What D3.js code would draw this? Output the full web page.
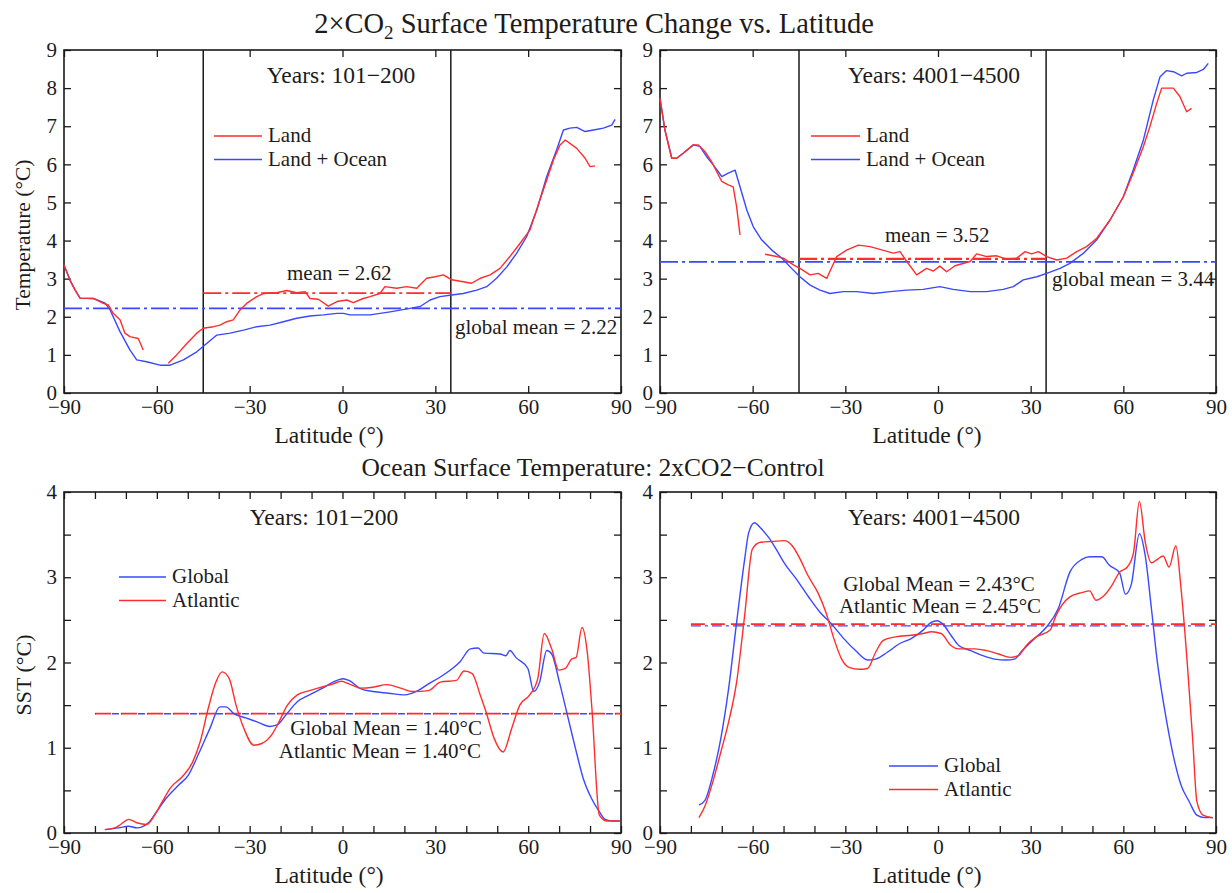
<!DOCTYPE html>
<html><head><meta charset="utf-8">
<script src="https://cdn.jsdelivr.net/npm/d3@7"></script>
<style>
body{margin:0;background:#fff}
text{font-family:"Liberation Serif","Times New Roman",serif;fill:#1c1c1c}
</style>
</head><body>
<svg id="c" width="1232" height="893"></svg>
<script>
// ---------------- DATA ----------------
const latTicksTop = [-90,-60,-30,0,30,60,90];
const latTicksBottom = [-90,-80,-70,-60,-50,-40,-30,-20,-10,0,10,20,30,40,50,60,70,80,90];
const tempTicks = [0,1,2,3,4,5,6,7,8,9];
const sstTicks = [0,0.5,1,1.5,2,2.5,3,3.5,4];

// Top-left: Years 101-200
const tlLandOcean = [[-90,3.36],[-88,2.95],[-86.4,2.7],[-84.8,2.49],[-80.5,2.48],[-76.7,2.36],[-75.1,2.18],[-71.9,1.61],[-68.7,1.13],[-66.5,0.87],[-63.3,0.82],[-59,0.73],[-55.7,0.73],[-51.4,0.87],[-47.1,1.08],[-43.9,1.30],[-40.6,1.52],[-36.3,1.57],[-32.0,1.65],[-27.7,1.74],[-23.4,1.78],[-19.1,1.87],[-14.8,1.96],[-10.5,2.02],[-6.2,2.05],[-1.8,2.09],[0.3,2.09],[2.4,2.05],[6.7,2.05],[8.9,2.05],[15.4,2.13],[21.8,2.22],[25.1,2.27],[28.3,2.44],[31.5,2.53],[35.3,2.57],[39.0,2.61],[43.4,2.70],[46.6,2.79],[49.8,3.01],[53.1,3.31],[56.3,3.67],[59.5,4.10],[62.8,4.80],[66.0,5.68],[69.2,6.38],[71.4,6.90],[73.5,6.95],[75.7,6.97],[78.4,6.86],[81.1,6.90],[84.3,6.95],[87.0,7.03],[88.1,7.18]];
const tlLand = [[-90,3.36],[-88,2.95],[-86.4,2.7],[-84.8,2.49],[-80.5,2.48],[-77.3,2.35],[-75.7,2.31],[-74.1,2.09],[-71.9,1.92],[-70.3,1.57],[-68.7,1.48],[-66.0,1.43],[-64.4,1.13],[-60,null],[-56.3,0.78],[-53.6,1.0],[-50.3,1.30],[-47.1,1.57],[-45.0,1.70],[-41.7,1.74],[-39.6,1.78],[-37.4,1.87],[-35.3,1.92],[-33.1,2.18],[-31.0,2.35],[-27.7,2.53],[-25.6,2.61],[-21.3,2.63],[-18.0,2.69],[-14.8,2.63],[-12.1,2.66],[-10.5,2.48],[-7.8,2.46],[-4.6,2.28],[-1.8,2.40],[1.4,2.44],[3.5,2.37],[6.7,2.48],[8.9,2.53],[12.1,2.61],[13.7,2.79],[17.5,2.75],[20.7,2.79],[24.0,2.75],[27.2,3.01],[29.9,3.05],[32.6,3.10],[35.3,2.97],[39.0,2.92],[41.7,2.88],[44.5,3.01],[47.7,3.10],[50.9,3.27],[54.1,3.58],[57.4,3.93],[60.6,4.28],[63.8,5.07],[66.0,5.59],[68.2,6.12],[70.3,6.51],[72.0,6.64],[75.7,6.42],[78.4,6.16],[80.0,5.94],[81.6,5.96]];
const tlMeans = {land:2.62, global:2.22};

// Top-right: Years 4001-4500
const trLandOcean = [[-90,7.73],[-88.4,6.90],[-86.2,6.16],[-84.6,6.16],[-82.5,6.29],[-79.2,6.51],[-77.1,6.47],[-74.9,6.20],[-72.7,5.98],[-70.0,5.68],[-67.9,5.77],[-65.7,5.85],[-64.1,5.41],[-61.9,4.80],[-59.8,4.36],[-57.1,4.02],[-53.8,3.75],[-50.6,3.54],[-47.4,3.27],[-44.7,3.05],[-41.4,2.83],[-38.2,2.70],[-35.0,2.61],[-30.7,2.66],[-26.3,2.66],[-20.9,2.61],[-15.5,2.66],[-10.1,2.70],[-4.8,2.72],[0.6,2.79],[4.9,2.72],[10.4,2.66],[15.8,2.66],[21.1,2.72],[24.4,2.79],[27.6,2.97],[32.0,3.05],[35.2,3.14],[39.5,3.27],[42.7,3.40],[47.1,3.67],[51.4,4.02],[55.7,4.54],[60.0,5.15],[63.2,5.85],[66.5,6.64],[69.7,7.69],[71.9,8.30],[74.0,8.46],[76.2,8.43],[78.9,8.32],[80.5,8.39],[83.8,8.41],[85.9,8.49],[87.5,8.65]];
const trLand = [[-90,7.73],[-88.4,6.90],[-86.2,6.16],[-84.6,6.16],[-82.5,6.29],[-79.2,6.51],[-77.6,6.51],[-75.4,6.33],[-73.3,6.07],[-70.0,5.55],[-67.9,5.46],[-66.3,5.41],[-65.2,4.89],[-64.1,4.15],[-60,null],[-56.0,3.64],[-52.2,3.58],[-50.1,3.54],[-46.8,3.36],[-44.7,3.27],[-41.4,3.10],[-38.8,3.14],[-36.0,3.01],[-32.8,3.58],[-29.6,3.75],[-25.8,3.88],[-22.0,3.84],[-18.8,3.77],[-14.5,3.67],[-12.3,3.71],[-10.1,3.45],[-6.9,3.10],[-3.7,3.27],[-1.5,3.2],[0.6,3.33],[2.8,3.18],[5.5,3.34],[10.4,3.45],[12.5,3.65],[15.8,3.58],[19.0,3.60],[22.2,3.51],[25.5,3.54],[28.2,3.71],[30.3,3.65],[32.5,3.71],[35.2,3.58],[38.4,3.49],[41.7,3.54],[44.9,3.71],[48.1,3.84],[51.4,4.06],[55.7,4.54],[60.0,5.15],[63.2,5.77],[66.5,6.47],[68.6,6.99],[70.8,7.60],[72.4,8.0],[76.2,8.0],[78.3,7.78],[80.5,7.38],[82.1,7.47]];
const trMeans = {land:3.52, global:3.44};

// Bottom-left: SST Years 101-200
const blGlobal = [[-76.8,0.04],[-72.3,0.06],[-69.1,0.08],[-66.5,0.06],[-62.7,0.12],[-60.1,0.25],[-56.9,0.41],[-53.0,0.56],[-49.8,0.68],[-46.6,0.92],[-42.8,1.23],[-39.6,1.48],[-37.7,1.48],[-35.1,1.40],[-31.2,1.35],[-27.4,1.30],[-23.5,1.25],[-21.0,1.27],[-18.4,1.38],[-14.6,1.54],[-10.7,1.62],[-6.9,1.69],[-3.0,1.77],[0.2,1.81],[2.1,1.79],[6.0,1.69],[9.8,1.66],[14.9,1.64],[20.1,1.62],[23.9,1.66],[27.8,1.75],[31.6,1.83],[35.5,1.93],[38.0,2.01],[41.3,2.16],[43.8,2.17],[45.7,2.11],[50.9,2.10],[52.8,2.08],[54.1,2.14],[56.0,2.06],[59.9,1.93],[61.8,1.66],[63.7,1.77],[66.0,2.14],[67.6,2.10],[70.1,1.77],[72.7,1.38],[75.3,0.99],[77.8,0.64],[80.4,0.41],[83.0,0.25],[84.9,0.16],[87.4,0.14],[89.6,0.14]];
const blAtlantic = [[-76.8,0.04],[-73.6,0.06],[-71.7,0.10],[-69.1,0.16],[-66.5,0.12],[-63.3,0.10],[-60.7,0.21],[-58.2,0.37],[-55.6,0.53],[-51.8,0.66],[-48.6,0.82],[-46.0,1.07],[-43.4,1.46],[-40.9,1.77],[-38.9,1.89],[-36.6,1.81],[-34.4,1.50],[-31.9,1.23],[-28.7,1.03],[-26.1,1.05],[-22.9,1.15],[-21.0,1.27],[-17.8,1.50],[-14.6,1.62],[-10.7,1.67],[-6.9,1.71],[-3.0,1.75],[-0.4,1.78],[2.1,1.75],[6.0,1.70],[9.8,1.71],[14.3,1.74],[18.8,1.70],[22.6,1.66],[27.8,1.67],[31.6,1.77],[36.8,1.79],[39.3,1.90],[41.9,1.87],[44.5,1.62],[46.4,1.42],[49.0,1.11],[51.9,0.95],[54.7,1.23],[57.3,1.50],[60.5,1.62],[63.1,1.81],[65.2,2.34],[67.6,2.16],[69.9,1.91],[72.0,1.93],[74.0,2.04],[75.5,2.06],[77.4,2.41],[79.1,2.12],[80.6,1.46],[83.0,0.21],[85.5,0.14],[89.6,0.14]];
const blMeans = {global:1.40, atlantic:1.40};

// Bottom-right: SST Years 4001-4500
const brGlobal = [[-77.4,0.33],[-75.5,0.38],[-72.9,0.68],[-70.3,1.11],[-67.8,1.69],[-65.2,2.47],[-62.6,3.21],[-61.3,3.52],[-59.4,3.64],[-57.5,3.58],[-54.9,3.47],[-52.4,3.33],[-49.8,3.17],[-45.9,2.98],[-42.1,2.78],[-38.2,2.59],[-34.4,2.45],[-30.5,2.28],[-26.7,2.14],[-22.8,2.03],[-20.2,2.04],[-16.4,2.12],[-12.5,2.22],[-8.7,2.28],[-4.8,2.38],[-2.2,2.47],[-0.3,2.49],[1.6,2.45],[4.2,2.32],[6.7,2.20],[10.6,2.14],[14.5,2.08],[18.3,2.04],[22.2,2.03],[24.7,2.04],[27.3,2.14],[31.2,2.28],[35.0,2.41],[38.9,2.63],[42.7,3.06],[46.6,3.21],[49.1,3.24],[53.0,3.24],[55.5,3.14],[58.8,3.05],[60.7,2.80],[62.6,2.92],[65.2,3.51],[67.1,3.25],[69.1,2.63],[71.0,2.01],[73.5,1.42],[76.1,0.92],[78.7,0.56],[81.3,0.37],[83.8,0.21],[86.4,0.18],[89.0,0.18]];
const brAtlantic = [[-77.4,0.18],[-75.5,0.31],[-72.9,0.60],[-70.3,0.95],[-67.8,1.30],[-65.2,1.77],[-62.6,2.55],[-60.1,3.33],[-57.5,3.41],[-53.6,3.42],[-49.8,3.43],[-47.2,3.37],[-44.6,3.21],[-42.1,3.02],[-38.9,2.82],[-36.3,2.59],[-33.7,2.28],[-31.2,2.04],[-28.6,1.94],[-25.4,1.92],[-22.8,1.93],[-20.2,2.12],[-17.7,2.26],[-13.8,2.30],[-8.7,2.32],[-4.8,2.34],[-2.2,2.36],[1.0,2.34],[4.2,2.20],[6.7,2.16],[11.9,2.16],[15.7,2.14],[19.6,2.10],[23.4,2.06],[26.0,2.08],[28.6,2.20],[31.8,2.30],[36.3,2.38],[38.2,2.55],[42.7,2.77],[46.6,2.82],[49.1,2.84],[51.1,2.73],[53.6,2.78],[56.2,2.90],[58.8,3.06],[61.3,3.12],[63.3,3.29],[65.2,3.89],[67.1,3.41],[69.1,3.17],[71.0,3.21],[72.9,3.25],[74.8,3.12],[77.0,3.37],[78.7,2.86],[80.6,2.04],[82.5,1.07],[83.8,0.37],[85.8,0.21],[89.0,0.18]];
const brMeans = {global:2.43, atlantic:2.45};

const tropicBounds = [-45, 35];
const sstMeanStart = -80;

// ---------------- DRAWING ----------------
const RED = "#ff2d2d", BLUE = "#3a48ff", INK = "#1a1a1a";
const svg = d3.select("#c");
svg.append("rect").attr("width",1232).attr("height",893).attr("fill","#fff");

const fmt = d => d < 0 ? "\u2212" + Math.abs(d) : String(d);

function makePanel(o){
  const x = d3.scaleLinear().domain([-90,90]).range([o.x0,o.x1]);
  const y = d3.scaleLinear().domain([0,o.ymax]).range([o.y1,o.y0]);
  const g = svg.append("g");
  const style = sel => {
    sel.select(".domain").remove();
    sel.selectAll(".tick line").attr("stroke",INK).attr("stroke-width",1.3);
    sel.selectAll("text").attr("font-family",'"Liberation Serif",serif').attr("font-size",21).attr("fill",INK);
    sel.attr("font-size",null).attr("font-family",null);
  };
  g.append("g").attr("transform",`translate(0,${o.y1})`)
    .call(d3.axisBottom(x).tickValues(o.xticks).tickSize(-o.tick).tickPadding(6).tickFormat(d => d%30===0 ? fmt(d) : ""))
    .call(style);
  g.append("g").attr("transform",`translate(0,${o.y0})`)
    .call(d3.axisTop(x).tickValues(o.xticks).tickSize(-o.tick).tickFormat(""))
    .call(style);
  g.append("g").attr("transform",`translate(${o.x0},0)`)
    .call(d3.axisLeft(y).tickValues(o.yticks).tickSize(-o.tick).tickPadding(7).tickFormat(d => Number.isInteger(d) ? String(d) : ""))
    .call(style);
  g.append("g").attr("transform",`translate(${o.x1},0)`)
    .call(d3.axisRight(y).tickValues(o.yticks).tickSize(-o.tick).tickFormat(""))
    .call(style);
  g.append("rect").attr("x",o.x0).attr("y",o.y0).attr("width",o.x1-o.x0).attr("height",o.y1-o.y0)
    .attr("fill","none").attr("stroke",INK).attr("stroke-width",1.6);
  return {g,x,y};
}

function drawSeries(p, data, color, curve){
  const line = d3.line().defined(d => d[1] !== null).x(d => p.x(d[0])).y(d => p.y(d[1])).curve(curve || d3.curveLinear);
  p.g.append("path").datum(data).attr("d",line).attr("fill","none").attr("stroke",color).attr("stroke-width",1.4).attr("stroke-linejoin","round");
}
function meanLine(p, a, b, v, color, dash, w, off){
  p.g.append("line").attr("x1",p.x(a)).attr("x2",p.x(b)).attr("y1",p.y(v)).attr("y2",p.y(v))
    .attr("stroke",color).attr("stroke-width",w||1.6).attr("stroke-dasharray",dash).attr("stroke-dashoffset",off||0);
}
function txt(x,y,s,anchor,size){
  return svg.append("text").attr("x",x).attr("y",y).attr("text-anchor",anchor||"start").attr("font-size",size||21).text(s);
}
function legend(x1,x2,y,items){
  items.forEach((it,i)=>{
    const yy = y + i*23.5;
    svg.append("line").attr("x1",x1).attr("x2",x2).attr("y1",yy).attr("y2",yy).attr("stroke",it.color).attr("stroke-width",1.7);
    txt(x2+6, yy+6, it.label);
  });
}

// ---- Top-left
const TL = makePanel({x0:64,x1:621,y0:50,y1:393,ymax:9,xticks:latTicksTop,yticks:tempTicks,tick:7});
tropicBounds.forEach(v => TL.g.append("line").attr("x1",TL.x(v)).attr("x2",TL.x(v)).attr("y1",50).attr("y2",393).attr("stroke",INK).attr("stroke-width",1.5));
meanLine(TL,-90,90,tlMeans.global,BLUE,"18,4,3,4");
meanLine(TL,tropicBounds[0],tropicBounds[1],tlMeans.land,RED,"18,4,3,4");
drawSeries(TL, tlLandOcean, BLUE);
drawSeries(TL, tlLand, RED);
txt(341,83,"Years: 101\u2212200","middle",23.5);
legend(214,262,136,[{label:"Land",color:RED},{label:"Land + Ocean",color:BLUE}]);
txt(287,280,"mean = 2.62");
txt(455,334,"global mean = 2.22");

// ---- Top-right
const TR = makePanel({x0:660,x1:1216,y0:50,y1:393,ymax:9,xticks:latTicksTop,yticks:tempTicks,tick:7});
tropicBounds.forEach(v => TR.g.append("line").attr("x1",TR.x(v)).attr("x2",TR.x(v)).attr("y1",50).attr("y2",393).attr("stroke",INK).attr("stroke-width",1.5));
meanLine(TR,-90,90,trMeans.global,BLUE,"18,4,3,4");
meanLine(TR,tropicBounds[0],tropicBounds[1],trMeans.land,RED,"18,4,3,4",2.2);
drawSeries(TR, trLandOcean, BLUE);
drawSeries(TR, trLand, RED);
txt(934,83,"Years: 4001\u22124500","middle",23.5);
legend(811,860,136,[{label:"Land",color:RED},{label:"Land + Ocean",color:BLUE}]);
txt(885,242,"mean = 3.52");
txt(1052,286,"global mean = 3.44");

// ---- Bottom-left
const BL = makePanel({x0:64,x1:621,y0:492,y1:833,ymax:4,xticks:latTicksBottom,yticks:sstTicks,tick:7});
meanLine(BL,sstMeanStart,90,blMeans.atlantic,RED,"16,10");
meanLine(BL,sstMeanStart,90,blMeans.global,BLUE,"7,2,1,16",1.5,9);
drawSeries(BL, blGlobal, BLUE, d3.curveMonotoneX);
drawSeries(BL, blAtlantic, RED, d3.curveMonotoneX);
txt(324,525,"Years: 101\u2212200","middle",23.5);
legend(119,166,577,[{label:"Global",color:BLUE},{label:"Atlantic",color:RED}]);
txt(482,735,"Global Mean = 1.40\u00b0C","end");
txt(481,758,"Atlantic Mean = 1.40\u00b0C","end");

// ---- Bottom-right
const BR = makePanel({x0:660,x1:1216,y0:492,y1:833,ymax:4,xticks:latTicksBottom,yticks:sstTicks,tick:7});
meanLine(BR,sstMeanStart,90,brMeans.atlantic,RED,"14,6");
meanLine(BR,sstMeanStart,90,brMeans.global,BLUE,"10,4,3,4",1.4);
drawSeries(BR, brGlobal, BLUE, d3.curveMonotoneX);
drawSeries(BR, brAtlantic, RED, d3.curveMonotoneX);
txt(934,525,"Years: 4001\u22124500","middle",23.5);
legend(889,938,766,[{label:"Global",color:BLUE},{label:"Atlantic",color:RED}]);
txt(939,591,"Global Mean = 2.43\u00b0C","middle");
txt(940,613,"Atlantic Mean = 2.45\u00b0C","middle");

// ---- Titles & axis labels
const t1 = svg.append("text").attr("x",594).attr("y",33).attr("text-anchor","middle").attr("font-size",28.5);
t1.append("tspan").text("2\u00d7CO");
t1.append("tspan").attr("dy",6).attr("font-size",19).text("2");
t1.append("tspan").attr("dy",-6).text(" Surface Temperature Change vs. Latitude");
txt(593,476,"Ocean Surface Temperature: 2xCO2\u2212Control","middle",25.5);

txt(329,443,"Latitude (\u00b0)","middle",23.5);
txt(927,443,"Latitude (\u00b0)","middle",23.5);
txt(329,883,"Latitude (\u00b0)","middle",23.5);
txt(927,883,"Latitude (\u00b0)","middle",23.5);
svg.append("text").attr("transform","translate(30,235) rotate(-90)").attr("text-anchor","middle").attr("font-size",21.5).text("Temperature (\u00b0C)");
svg.append("text").attr("transform","translate(31,675) rotate(-90)").attr("text-anchor","middle").attr("font-size",22).text("SST (\u00b0C)");
</script>
</body></html>
